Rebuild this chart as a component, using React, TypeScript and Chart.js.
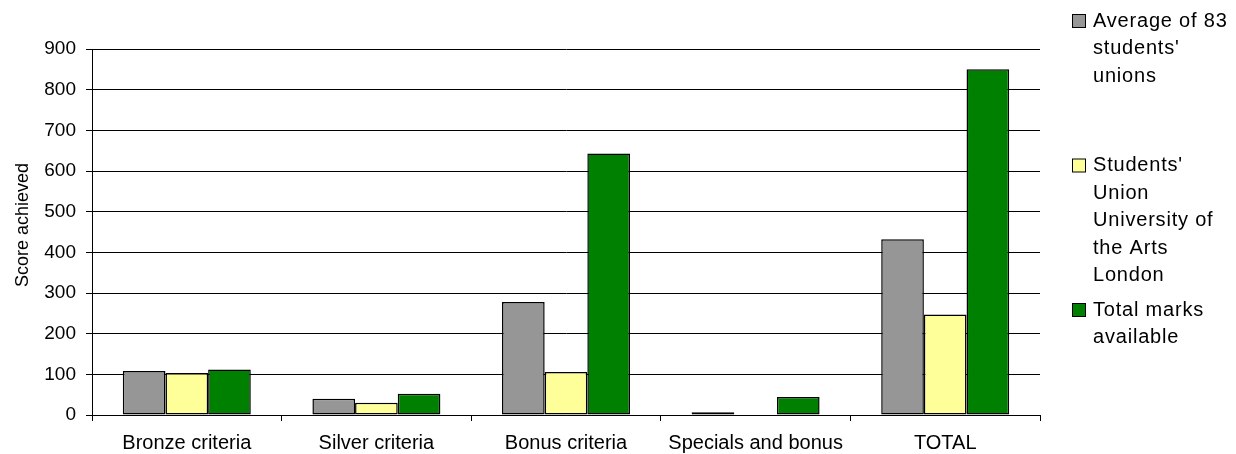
import React, { useEffect, useRef } from "react";
import { Chart, registerables } from "chart.js";

Chart.register(...registerables);

const categories = ["Bronze criteria", "Silver criteria", "Bonus criteria", "Specials and bonus", "TOTAL"];
const averageScores = [108, 40, 278, 7, 432];
const ualScores = [103, 30, 106, 0, 247];
const totalMarks = [112, 52, 643, 44, 850];

const averageLegend = ["Average of 83", "students'", "unions"];
const ualLegend = ["Students'", "Union", "University of", "the Arts", "London"];
const totalLegend = ["Total marks", "available"];

const yMin = 0;
const yMax = 900;
const yStep = 100;
const yTitle = "Score achieved";

const FONT = "'Liberation Sans', Arial, sans-serif";

const sideLegend = {
  id: "sideLegend",
  afterDraw(chart: any) {
    const ctx = chart.ctx as CanvasRenderingContext2D;
    ctx.save();
    ctx.font = `20px ${FONT}`;
    ctx.textBaseline = "middle";
    ctx.textAlign = "left";
    (ctx as any).letterSpacing = "0.8px";
    chart.data.datasets.forEach((ds: any, i: number) => {
      const lines: string[] = ds.legendLines || [ds.label];
      const y0 = 21 + 144.5 * i;
      ctx.fillStyle = ds.backgroundColor;
      ctx.fillRect(1072.5, y0 - 6.5, 13, 13);
      ctx.strokeStyle = "#000";
      ctx.lineWidth = 1;
      ctx.strokeRect(1072.5, y0 - 6.5, 13, 13);
      ctx.fillStyle = "#000";
      lines.forEach((line, j) => ctx.fillText(line, 1093, y0 + j * 27.5));
    });
    ctx.restore();

    // y-axis title
    const title = chart.options.scales.y.customTitle as string;
    ctx.save();
    ctx.font = `18px ${FONT}`;
    ctx.fillStyle = "#000";
    ctx.textAlign = "center";
    ctx.textBaseline = "alphabetic";
    ctx.translate(28, 225);
    ctx.rotate(-Math.PI / 2);
    ctx.fillText(title, 0, 0);
    ctx.restore();
  },
};

export default function App() {
  const canvasRef = useRef<HTMLCanvasElement | null>(null);

  useEffect(() => {
    if (!canvasRef.current) return;
    const mk = (label: string[], data: number[], color: string) => ({
      label: label.join(" "),
      legendLines: label,
      data,
      backgroundColor: color,
      borderColor: "#000",
      borderWidth: 1.5,
      borderSkipped: false,
      inflateAmount: 0,
      barPercentage: 1,
      categoryPercentage: 0.675,
    });
    const chart = new Chart(canvasRef.current, {
      type: "bar",
      data: {
        labels: categories,
        datasets: [
          mk(averageLegend, averageScores, "#969696"),
          mk(ualLegend, ualScores, "#FFFF99"),
          mk(totalLegend, totalMarks, "#008000"),
        ] as any,
      },
      options: {
        animation: false,
        responsive: false,
        maintainAspectRatio: false,
        devicePixelRatio: 1,
        layout: { padding: { top: 49, right: 196, left: 0, bottom: 0 } },
        plugins: {
          legend: { display: false },
          tooltip: { enabled: false },
        },
        scales: {
          x: {
            offset: true,
            afterFit: (s: any) => {
              s.height = 39;
            },
            grid: {
              offset: true,
              drawOnChartArea: false,
              drawTicks: true,
              tickLength: 6,
              color: "#000",
              lineWidth: 1,
            },
            border: { display: true, color: "#000", width: 1 },
            ticks: {
              color: "#000",
              font: { family: FONT, size: 20 },
              padding: 10,
              maxRotation: 0,
              autoSkip: false,
            },
          },
          y: {
            min: yMin,
            max: yMax,
            customTitle: yTitle,
            afterFit: (s: any) => {
              s.width = 92;
            },
            grid: {
              color: "#000",
              lineWidth: 1,
              drawTicks: true,
              tickLength: 6,
            },
            border: { display: true, color: "#000", width: 1 },
            ticks: {
              stepSize: yStep,
              color: "#000",
              font: { family: FONT, size: 19 },
              padding: 10,
            },
          } as any,
        },
      },
      plugins: [sideLegend],
    });
    return () => chart.destroy();
  }, []);

  return (
    <div style={{ position: "fixed", left: 0, top: 0, width: 1236, height: 454, background: "#fff" }}>
      <canvas ref={canvasRef} width={1236} height={454} style={{ width: 1236, height: 454, display: "block" }} />
    </div>
  );
}
